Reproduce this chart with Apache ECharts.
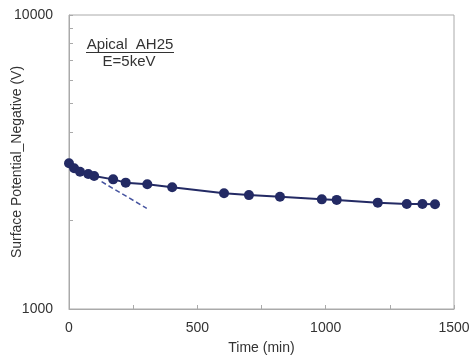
<!DOCTYPE html>
<html>
<head>
<meta charset="utf-8">
<script src="https://cdn.jsdelivr.net/npm/echarts@6/dist/echarts.min.js"></script>
<style>
  html, body { margin: 0; padding: 0; background: #fff; }
  #chart { width: 470px; height: 358px; }
</style>
</head>
<body>
<div id="chart"></div>
<script>
// Surface potential decay, sample Apical AH25 charged at E = 5 keV
const timeMin = [0, 20, 43, 75, 98, 172, 221, 305, 402, 604, 701, 822, 985, 1043, 1203, 1316, 1377, 1426];
const potentialV = [3130, 3010, 2930, 2880, 2835, 2760, 2690, 2655, 2595, 2475, 2440, 2410, 2360, 2350, 2300, 2275, 2275, 2270];

// Initial-slope trend line (dashed)
const trendTime = [127, 303];
const trendV = [2710, 2200];

const yTickValues = [1000, 2000, 3000, 4000, 5000, 6000, 7000, 8000, 9000, 10000];
const yLabelValues = [1000, 10000];
const xLabelStep = 500;

const FONT = '"Liberation Sans", Arial, sans-serif';
const INK = '#333';
const FRAME = '#aaa';
const NAVY = '#232a64';

const chart = echarts.init(document.getElementById('chart'), null, { renderer: 'canvas' });

chart.setOption({
  animation: false,
  backgroundColor: '#fff',
  grid: {
    left: 69, right: 16, top: 15, bottom: 49,
    containLabel: false,
    outerBoundsMode: 'none',
    show: true, borderColor: FRAME, borderWidth: 1, backgroundColor: 'transparent'
  },
  xAxis: {
    type: 'value',
    min: 0, max: 1500, interval: 250,
    name: 'Time (min)',
    nameLocation: 'middle',
    nameGap: 32,
    nameMoveOverlap: false,
    nameTextStyle: { color: INK, fontSize: 14, fontFamily: FONT },
    axisLine: { show: true, lineStyle: { color: FRAME, width: 1 } },
    axisTick: { show: true, inside: true, length: 4, lineStyle: { color: FRAME } },
    axisLabel: {
      color: INK, fontSize: 14, fontFamily: FONT, margin: 12,
      formatter: v => (v % xLabelStep === 0 ? String(v) : '')
    },
    splitLine: { show: false }
  },
  yAxis: {
    type: 'log',
    logBase: 10,
    min: 1000, max: 10000,
    name: 'Surface Potential_Negative (V)',
    nameLocation: 'middle',
    nameGap: 45,
    nameMoveOverlap: false,
    nameTextStyle: { color: INK, fontSize: 14, fontFamily: FONT },
    axisLine: { show: true, lineStyle: { color: FRAME, width: 1 } },
    axisTick: { show: true, inside: true, length: 4, lineStyle: { color: FRAME }, customValues: yTickValues },
    axisLabel: {
      color: INK, fontSize: 14, fontFamily: FONT, margin: 16,
      customValues: yLabelValues,
      formatter: v => String(Math.round(v))
    },
    splitLine: { show: false }
  },
  series: [
    {
      type: 'line',
      data: timeMin.map((t, i) => [t, potentialV[i]]),
      symbol: 'circle',
      symbolSize: 10,
      lineStyle: { color: NAVY, width: 2 },
      itemStyle: { color: NAVY },
      z: 3
    },
    {
      type: 'line',
      data: trendTime.map((t, i) => [t, trendV[i]]),
      symbol: 'none',
      lineStyle: { color: '#4654a0', width: 1.5, type: [5, 3] },
      z: 2
    }
  ],
  graphic: [
    {
      type: 'text', x: 130, y: 45,
      style: { text: 'Apical  AH25', fill: INK, font: '15px ' + FONT, textAlign: 'center', textVerticalAlign: 'middle' }
    },
    {
      type: 'line',
      shape: { x1: 86, y1: 52.5, x2: 174, y2: 52.5 },
      style: { stroke: INK, lineWidth: 1 }
    },
    {
      type: 'text', x: 129, y: 62,
      style: { text: 'E=5keV', fill: INK, font: '15px ' + FONT, textAlign: 'center', textVerticalAlign: 'middle' }
    }
  ]
});
</script>
</body>
</html>
